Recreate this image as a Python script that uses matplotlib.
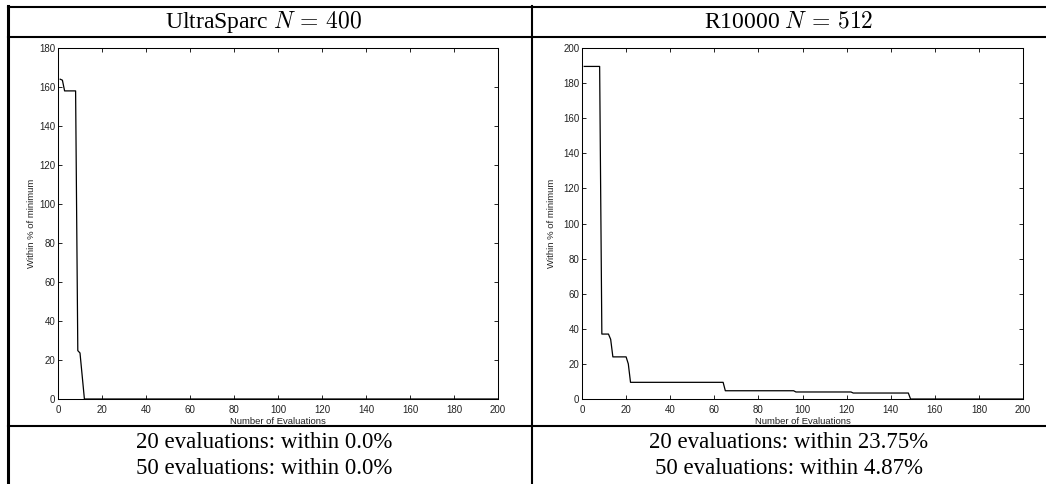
"""Convergence of the search on two machines, laid out as a ruled table."""

import matplotlib
matplotlib.use("Agg")
import matplotlib.pyplot as plt
from matplotlib.lines import Line2D


FIG_W_PX = 1046
FIG_H_PX = 484

# Left panel: UltraSparc, N = 400
ULTRA_EVALS = [1, 2, 3, 8, 9, 10, 12, 200]
ULTRA_WITHIN = [164.0, 163.5, 158.0, 158.0, 24.8, 23.6, 0.0, 0.0]

# Right panel: R10000, N = 512
R10K_EVALS = [1, 8, 9, 12, 13, 14, 20, 21, 22, 64, 65, 96, 97, 122, 123,
              148, 149, 200]
R10K_WITHIN = [189.5, 189.5, 37.0, 37.0, 34.0, 24.0, 24.0, 20.0, 9.5, 9.5,
               4.7, 4.7, 4.0, 4.0, 3.4, 3.4, 0.0, 0.0]

TITLES = [r"UltraSparc $N\,=\,400$", r"R10000 $N\,=\,512$"]
CAPTIONS = [
    ("20 evaluations: within 0.0%", "50 evaluations: within 0.0%"),
    ("20 evaluations: within 23.75%", "50 evaluations: within 4.87%"),
]
Y_LIMITS = [180, 200]
X_TICKS = list(range(0, 201, 20))

plt.rcParams["mathtext.fontset"] = "cm"


def fx(px):
  return px / FIG_W_PX


def fy(py):
  return 1.0 - py / FIG_H_PX


def hline(fig, py, x0=8, x1=FIG_W_PX, lw=1.5):
  fig.add_artist(Line2D([fx(x0), fx(x1)], [fy(py), fy(py)],
                        transform=fig.transFigure, color="black", lw=lw))


def vline(fig, px, y0, y1, lw=1.5):
  fig.add_artist(Line2D([fx(px), fx(px)], [fy(y0), fy(y1)],
                        transform=fig.transFigure, color="black", lw=lw))


def draw_panel(fig, left_px, right_px, evals, within, y_max, ylabel_px):
  top_px, bottom_px = 48, 399
  axis = fig.add_axes([
      fx(left_px), fy(bottom_px),
      (right_px - left_px) / FIG_W_PX, (bottom_px - top_px) / FIG_H_PX,
  ])
  axis.plot(evals, within, color="black", lw=0.9)
  axis.set_xlim(0, 200)
  axis.set_ylim(0, y_max)
  axis.set_xticks(X_TICKS)
  axis.set_yticks(range(0, y_max + 1, 20))
  axis.tick_params(direction="in", length=3, width=0.6, top=True,
                   right=True, labelsize=7, labelfontfamily="Liberation Sans",
                   labelcolor="#222222")
  axis.tick_params(axis="y", pad=2)
  axis.tick_params(axis="x", pad=4)
  for spine in axis.spines.values():
    spine.set_linewidth(0.75)
  axis.set_xlabel("Number of Evaluations", fontsize=6.8,
                  family="Liberation Sans", color="#222222")
  axis.set_ylabel("Within % of minimum", fontsize=6.8,
                  family="Liberation Sans", color="#222222")
  axis.xaxis.set_label_coords(0.5, (bottom_px - 417.0) / (bottom_px - top_px))
  axis.yaxis.set_label_coords(
      (ylabel_px - left_px) / (right_px - left_px), 0.5)
  return axis


def main():
  fig = plt.figure(figsize=(FIG_W_PX / 100, FIG_H_PX / 100), dpi=100)

  draw_panel(fig, 58, 498, ULTRA_EVALS, ULTRA_WITHIN, Y_LIMITS[0], 36)
  draw_panel(fig, 582, 1023, R10K_EVALS, R10K_WITHIN, Y_LIMITS[1], 556)

  # table rules
  hline(fig, 7)
  hline(fig, 37)
  hline(fig, 426)
  vline(fig, 8, 6, FIG_H_PX, lw=2.2)
  vline(fig, 532, 6, FIG_H_PX)

  for center_px, title, (line1, line2) in zip((264, 789), TITLES, CAPTIONS):
    fig.text(fx(center_px), fy(22), title, ha="center", va="center",
             fontsize=17, family="Liberation Serif")
    fig.text(fx(center_px), fy(442), line1, ha="center", va="center",
             fontsize=16.5, family="Liberation Serif")
    fig.text(fx(center_px), fy(469), line2, ha="center", va="center",
             fontsize=16.5, family="Liberation Serif")

  fig.savefig("out.png", dpi=100)


if __name__ == "__main__":
  main()
